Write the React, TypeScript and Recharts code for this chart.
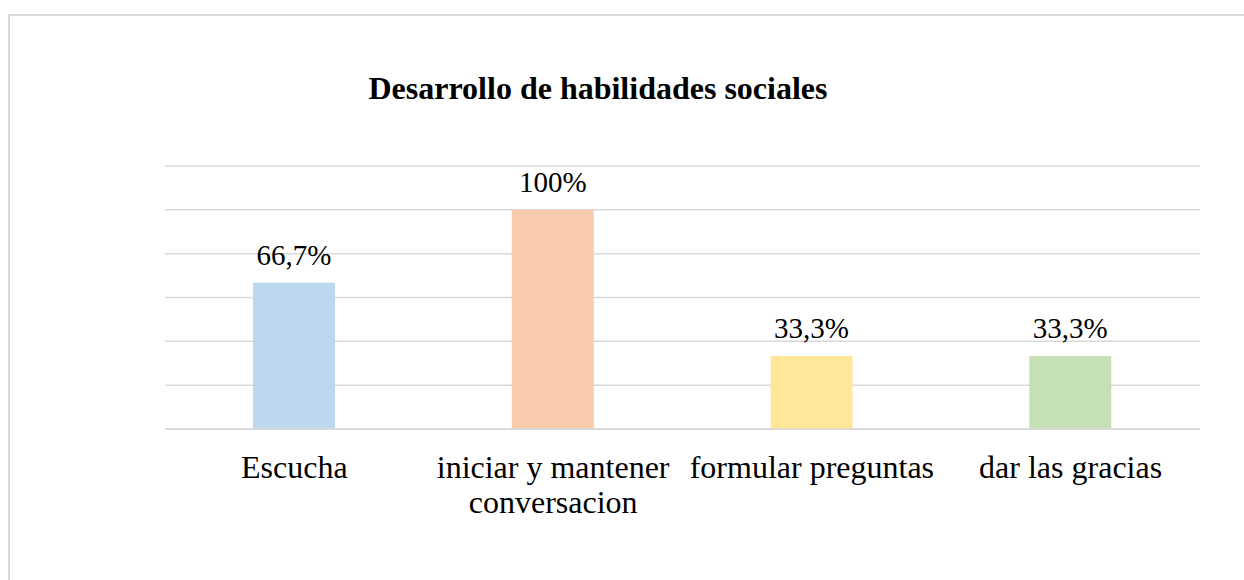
import React from 'react';
import { BarChart, Bar, XAxis, YAxis, CartesianGrid, Cell, LabelList } from 'recharts';

const categories = ['Escucha', 'iniciar y mantener conversacion', 'formular preguntas', 'dar las gracias'];
const values = [66.7, 100, 33.3, 33.3];
const valueLabels = ['66,7%', '100%', '33,3%', '33,3%'];
const barColors = ['#BDD7EE', '#F8CBAD', '#FFE699', '#C5E0B4'];
const yTicks = [0, 20, 40, 60, 80, 100, 120];

const data = categories.map((name, i) => ({ name, value: values[i], label: valueLabels[i] }));

const FONT = 'Liberation Serif';

// greedy wrap, the long category breaks onto two lines like in Excel
const wrap = (s: string, max = 20) => {
  const lines: string[] = [];
  let cur = '';
  s.split(' ').forEach((w) => {
    const next = cur ? cur + ' ' + w : w;
    if (next.length > max && cur) {
      lines.push(cur);
      cur = w;
    } else {
      cur = next;
    }
  });
  if (cur) lines.push(cur);
  return lines;
};

const CategoryTick = (props: any) => {
  const { x, y, payload } = props;
  const lines = wrap(String(payload.value));
  return (
    <text x={x} y={y} textAnchor="middle" fill="#000" fontFamily={FONT} fontSize={32}>
      {lines.map((l, i) => (
        <tspan key={i} x={x} dy={i === 0 ? 49 : 35}>{l}</tspan>
      ))}
    </text>
  );
};

const ValueLabel = (props: any) => {
  const { x, y, width, value } = props;
  return (
    <text x={x + width / 2} y={y - 18} textAnchor="middle" fill="#000" fontFamily={FONT} fontSize={29}>
      {value}
    </text>
  );
};

const NoTick = () => <g />;

export default function App() {
  return (
    <div style={{ position: 'absolute', left: 0, top: 0, width: 1244, height: 580, overflow: 'hidden', background: '#fff' }}>
      <div style={{ position: 'absolute', left: 8, top: 14, width: 1300, height: 700, border: '2px solid #d9d9d9', boxSizing: 'border-box' }} />
      <div
        style={{
          position: 'absolute', left: 0, top: 72, width: 1196, textAlign: 'center',
          fontFamily: FONT, fontSize: 32, fontWeight: 'bold', lineHeight: '32px', color: '#000',
        }}
      >
        Desarrollo de habilidades sociales
      </div>
      <div style={{ position: 'absolute', left: 0, top: 0 }}>
        <BarChart width={1244} height={580} data={data} margin={{ top: 166, right: 44, bottom: 0, left: 165 }}>
          <CartesianGrid horizontal vertical={false} stroke="#d9d9d9" strokeWidth={1.5} />
          <XAxis
            dataKey="name"
            height={151}
            axisLine={{ stroke: '#d9d9d9', strokeWidth: 1.5 }}
            tickLine={false}
            tickSize={0}
            tickMargin={0}
            interval={0}
            tick={<CategoryTick />}
          />
          <YAxis domain={[0, 120]} ticks={yTicks} interval={0} width={0} tick={<NoTick />} axisLine={false} tickLine={false} />
          <Bar dataKey="value" barSize={82} isAnimationActive={false}>
            {data.map((d, i) => (
              <Cell key={d.name} fill={barColors[i]} />
            ))}
            <LabelList dataKey="label" content={<ValueLabel />} />
          </Bar>
        </BarChart>
      </div>
    </div>
  );
}
